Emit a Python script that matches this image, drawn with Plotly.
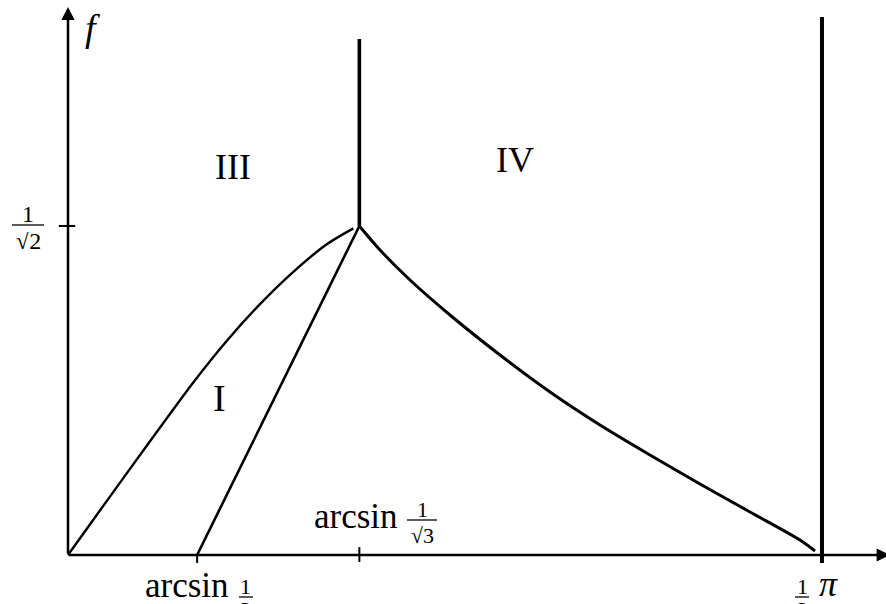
import plotly.graph_objects as go

# Boundary curves of the phase diagram (theta on x, f on y)
left_curve_x = [0.0, 0.0527, 0.1223, 0.1917, 0.2610, 0.3306, 0.4000, 0.4694, 0.5390, 0.5944]
left_curve_y = [0.0, 0.0759, 0.1754, 0.2739, 0.3709, 0.4600, 0.5391, 0.6085, 0.6677, 0.7020]

straight_x = [0.269, 0.607]
straight_y = [0.0, 0.7071]

right_curve_x = [0.607, 0.650, 0.7125, 0.7958, 0.900, 1.0042, 1.1083, 1.2125, 1.3167, 1.4208, 1.525, 1.5563]
right_curve_y = [0.7071, 0.6555, 0.591, 0.5158, 0.4298, 0.3503, 0.2794, 0.2149, 0.1526, 0.0924, 0.0322, 0.0086]

mid_vertical_x = [0.607, 0.607]
mid_vertical_y = [0.7071, 1.109]

half_pi_x = [1.5708, 1.5708]
half_pi_y = [-0.017, 1.156]

# Tick positions
x_ticks = [0.269, 0.607, 1.5708]
y_tick = 0.7071

W, H = 886, 604
SERIF = "Liberation Serif, Times New Roman, serif"


def px(x, y):
    """pixel position -> paper coordinates"""
    return x / W, 1 - y / H


fig = go.Figure()

fig.add_trace(go.Scatter(x=left_curve_x, y=left_curve_y, mode="lines",
                         line=dict(color="black", width=2.4, shape="spline", smoothing=0.8)))
fig.add_trace(go.Scatter(x=straight_x, y=straight_y, mode="lines",
                         line=dict(color="black", width=2.6)))
fig.add_trace(go.Scatter(x=right_curve_x, y=right_curve_y, mode="lines",
                         line=dict(color="black", width=3, shape="spline", smoothing=0.8)))
fig.add_trace(go.Scatter(x=mid_vertical_x, y=mid_vertical_y, mode="lines",
                         line=dict(color="black", width=3.6)))
fig.add_trace(go.Scatter(x=half_pi_x, y=half_pi_y, mode="lines",
                         line=dict(color="black", width=4)))

shapes = []
# tick marks
shapes.append(dict(type="line", xref="x", yref="y", x0=x_ticks[0], x1=x_ticks[0],
                   y0=0, y1=-0.017, line=dict(color="black", width=2)))
shapes.append(dict(type="line", xref="x", yref="y", x0=x_ticks[1], x1=x_ticks[1],
                   y0=0.017, y1=-0.015, line=dict(color="black", width=2)))
shapes.append(dict(type="line", xref="x", yref="y", x0=-0.019, x1=0.015,
                   y0=y_tick, y1=y_tick, line=dict(color="black", width=2)))

annotations = []
# axes with arrowheads
annotations.append(dict(x=0, y=1.178, ax=0, ay=0, xref="x", yref="y", axref="x", ayref="y",
                        showarrow=True, arrowhead=2, arrowsize=1.05, arrowwidth=2.5,
                        arrowcolor="black", text=""))
annotations.append(dict(x=1.712, y=0, ax=-0.002, ay=0, xref="x", yref="y", axref="x", ayref="y",
                        showarrow=True, arrowhead=2, arrowsize=1.05, arrowwidth=2.5,
                        arrowcolor="black", text=""))


def text(t, x, y, size, height=None):
    xx, yy = px(x, y)
    ann = dict(text=t, x=xx, y=yy, xref="paper", yref="paper",
               showarrow=False, xanchor="center", yanchor="middle", borderpad=0,
               font=dict(family=SERIF, size=size, color="black"))
    if height is not None:
        ann["height"] = height
    annotations.append(ann)


def frac(num, den, cx, y_bar, half_w, size, den_gap=14):
    # numerator above the bar, denominator below it, in tight text boxes
    text(num, cx, y_bar - 11, size, height=18)
    text(den, cx, y_bar + den_gap, size, height=18)
    x0, y0 = px(cx - half_w, y_bar)
    x1, _ = px(cx + half_w, y_bar)
    shapes.append(dict(type="line", xref="paper", yref="paper", x0=x0, x1=x1, y0=y0, y1=y0,
                       line=dict(color="black", width=1.3)))


# axis label f
text("<i>f</i>", 92, 28, 38)

# 1/sqrt(2) on the y axis
frac("1", "√2", 28, 225, 16, 24, den_gap=16)

# arcsin 1/3 below the x axis
text("arcsin", 187, 585, 35)
frac("1", "3", 246, 597, 7, 22, den_gap=12)

# arcsin 1/sqrt(3) above the x axis
text("arcsin", 356, 516, 35)
frac("1", "√3", 422, 520, 15, 22, den_gap=15)

# pi/2 below the x axis
frac("1", "2", 802, 597, 7, 22, den_gap=12)
text("<i>π</i>", 828, 584, 36)

# region labels
text("III", 233, 167, 36)
text("IV", 515, 160, 36)
text("I", 219, 398, 38)

fig.update_layout(
    width=W, height=H,
    margin=dict(l=0, r=0, t=0, b=0),
    paper_bgcolor="white", plot_bgcolor="white",
    showlegend=False,
    xaxis=dict(range=[-68 / 480, 818 / 480], visible=False, fixedrange=True),
    yaxis=dict(range=[-49 / 465.3, 555 / 465.3], visible=False, fixedrange=True),
    shapes=shapes,
    annotations=annotations,
)

fig.write_html("out.html")
